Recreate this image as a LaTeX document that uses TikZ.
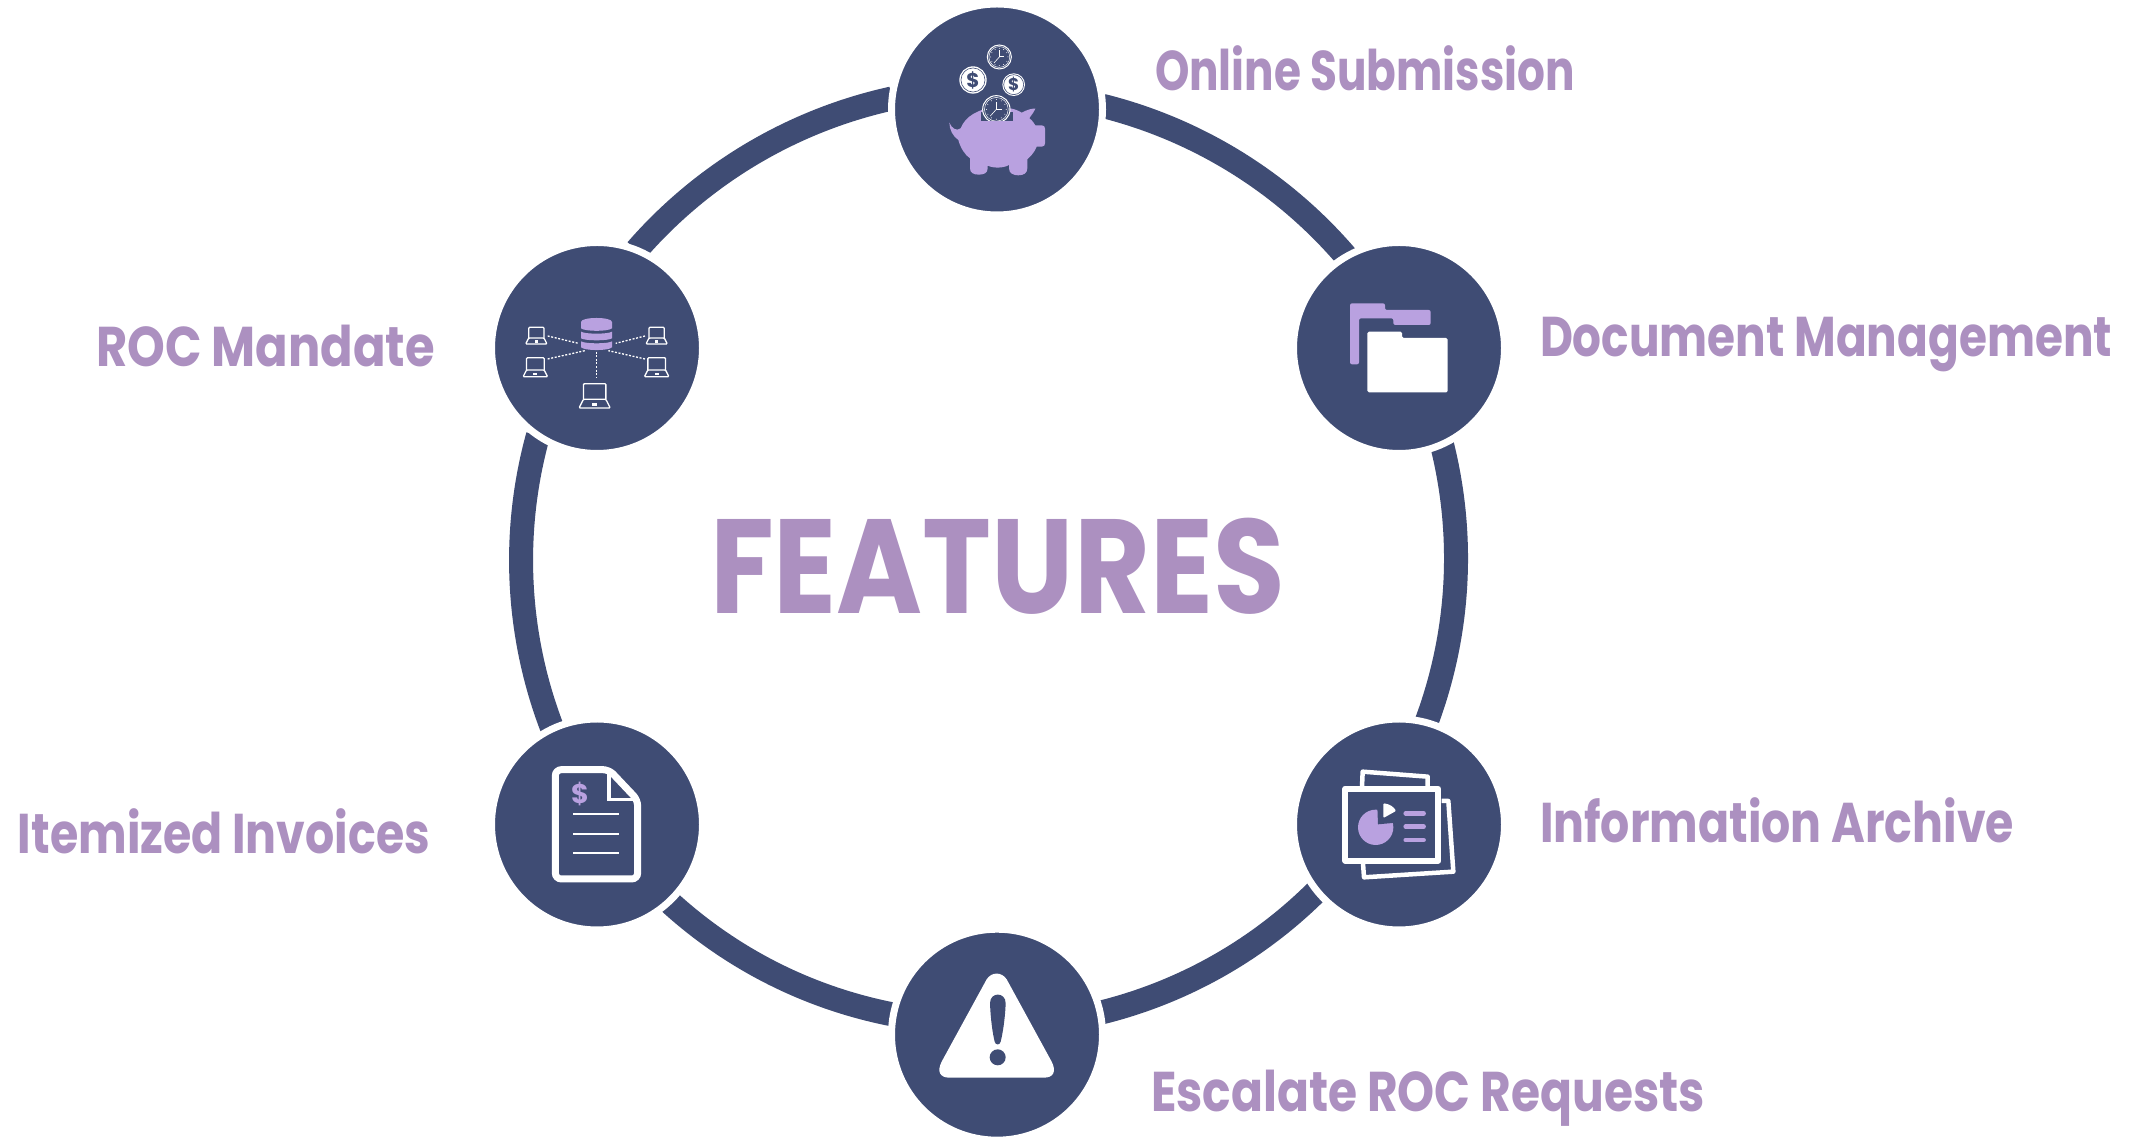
\documentclass[tikz,border=0pt]{standalone}
\usepackage{fontspec}
\usepackage{graphicx}
\setmainfont{Poppins}
\usetikzlibrary{backgrounds}
\definecolor{navy}{HTML}{3F4C74}
\definecolor{txt}{HTML}{AC90C0}
\definecolor{pur}{HTML}{B9A1E0}
\newcommand\fitw[2]{\setbox0\hbox{#2}\pgfmathparse{#1/\the\wd0}\scalebox{\pgfmathresult}[1]{\box0}}
\newcommand\laptop[3]{%
 \begin{scope}[shift={(#1,#2)}]
 \draw[wl,line width=1.3pt,rounded corners=1pt] (-23*#3,32*#3) -- (-23*#3,0) -- (23*#3,0) -- (23*#3,32*#3);
 \draw[wl,line width=1.3pt,rounded corners=1pt] (-23*#3,32*#3) -- (-32*#3,50*#3) -- (32*#3,50*#3) -- (23*#3,32*#3) -- cycle;
 \fill[white] (-5*#3,39*#3) rectangle (5*#3,46*#3);
 \end{scope}}
\newcommand\clockic[3]{%
 \begin{scope}[shift={(#1,#2)}]
 \fill[navy] (0,0) circle[radius=#3];
 \draw[white,line width=1pt] (0,0) circle[radius=#3];
 \draw[white,line width=.5pt] (0,0) circle[radius=#3*.87];
 \foreach \a in {0,30,...,330} \fill[white] (\a:#3*.72) circle[radius=1.5];
 \draw[white,line width=1pt] (0,-#3*.55) -- (0,0) -- (#3*.42,0);
 \draw[white,line width=.6pt] (0,0) -- (-#3*.45,#3*.5);
 \end{scope}}
\newcommand\coinic[4]{%
 \begin{scope}[shift={(#1,#2)}]
 \fill[white] (0,0) circle[radius=#3];
 \draw[navy,line width=.6pt] (0,0) circle[radius=#3*.88];
 \node[navy,font=\fontsize{#4}{#4}\selectfont\bfseries,inner sep=0pt] (n#1) at (0,0) {\$};
 \end{scope}}
\tikzset{
 feat/.style={circle,minimum size=211pt,inner sep=0pt,outer sep=0pt,fill=navy,draw=white,line width=7pt},
 ringarc/.style={draw=navy,line width=24pt,line cap=butt,looseness=.873},
 lbl/.style={anchor=base west,inner sep=0pt,outer sep=0pt,text=txt,font=\fontsize{56}{60}\selectfont\bfseries},
 wl/.style={draw=white},
 zoomed/.style={x=.33333pt,y=-.33333pt},
}
\begin{document}
\begin{tikzpicture}[x=1pt,y=1pt]
\useasboundingbox (0,0) rectangle (2144,1137);
\node[feat] (top) at (997,1027.5) {};
\node[feat] (ur) at (1399,789) {};
\node[feat] (lr) at (1399,312.5) {};
\node[feat] (bot) at (997,102.3) {};
\node[feat] (ll) at (597,312.5) {};
\node[feat] (ul) at (597,789) {};
\begin{pgfonlayer}{background}
\fill[white] (0,0) rectangle (2144,1137);
\draw[ringarc] (top.2.9) to[bend left=17.7] (ur.120.1);
\draw[ringarc] (ur.-66.9) to[bend left=17.3] (lr.75.1);
\draw[ringarc] (lr.219.6) to[bend left=15.5] (bot.12.8);
\draw[ringarc] (bot.169.4) to[bend left=15.7] (ll.-47.2);
\draw[ringarc] (ll.115.1) to[bend left=18.3] (ul.236.1);
\draw[ringarc] (ul.68.2) to[bend left=18.3] (top.174.9);
\end{pgfonlayer}
% labels
\node[lbl] (t1) at (1155,1046.5) {\fitw{420}{Online Submission}};
\node[lbl] (t2) at (1540,780.5) {\fitw{572}{Document Management}};
\node[lbl] (t3) at (1540,294.5) {\fitw{474}{Information Archive}};
\node[lbl] (t4) at (1151,25.5) {\fitw{554}{Escalate ROC Requests}};
\node[lbl] (t5) at (96,770.5) {\fitw{339}{ROC Mandate}};
\node[lbl] (t6) at (18,283.5) {\fitw{412}{Itemized Invoices}};
\node[lbl,font=\fontsize{134}{140}\selectfont\bfseries] (title) at (710,523) {\fitw{575}{FEATURES}};
% piggy
\begin{scope}[shift={(890pt,1137pt)},zoomed]
\fill[pur] (178,368) .. controls (185,385) and (200,395) .. (212,385)
 .. controls (225,350) and (265,325) .. (320,322)
 .. controls (350,322) and (375,325) .. (395,338)
 .. controls (410,330) and (425,325) .. (436,326)
 .. controls (430,340) and (420,350) .. (418,355)
 .. controls (428,362) and (432,370) .. (436,376)
 -- (455,376) .. controls (462,376) and (465,380) .. (465,386)
 -- (465,430) .. controls (465,436) and (462,440) .. (455,440)
 -- (440,440) .. controls (432,460) and (420,470) .. (412,478)
 -- (412,505) .. controls (412,520) and (400,526) .. (385,526)
 .. controls (370,526) and (357,520) .. (357,505)
 -- (357,495) .. controls (340,505) and (310,505) .. (293,497)
 -- (293,505) .. controls (293,520) and (280,524) .. (266,524)
 .. controls (250,524) and (240,518) .. (240,505)
 -- (240,475) .. controls (225,465) and (212,445) .. (205,420)
 .. controls (190,410) and (178,390) .. (178,368) -- cycle;
\fill[navy] (272,335) rectangle (368,362);
\begin{scope}
\clip (250,270) rectangle (390,362);
\clockic{319}{328}{41}
\end{scope}
\clockic{328}{171}{36}
\coinic{249}{240}{41}{20}
\coinic{371}{254}{34}{17}
\end{scope}
% network
\begin{scope}[shift={(490pt,897pt)},zoomed]
\fill[pur] (273,246) .. controls (273,230) and (366,230) .. (366,246) -- (366,265) .. controls (355,275) and (285,275) .. (273,265) -- cycle;
\fill[pur] (273,275) .. controls (285,283) and (355,283) .. (366,275) -- (366,295) .. controls (355,303) and (285,303) .. (273,295) -- cycle;
\fill[pur] (273,304) .. controls (285,312) and (355,312) .. (366,304) -- (366,322) .. controls (355,333) and (285,333) .. (273,322) -- cycle;
\draw[white,line width=1.3pt,dash pattern=on 2pt off 1.6pt] (173,288) -- (265,310);
\draw[white,line width=1.3pt,dash pattern=on 2pt off 1.6pt] (173,357) -- (285,332);
\draw[white,line width=1.3pt,dash pattern=on 2pt off 1.6pt] (319,335) -- (319,412);
\draw[white,line width=1.3pt,dash pattern=on 2pt off 1.6pt] (465,288) -- (377,310);
\draw[white,line width=1.3pt,dash pattern=on 2pt off 1.6pt] (465,357) -- (355,332);
\laptop{139}{262}{1}
\laptop{136}{353}{1.15}
\laptop{314}{431}{1.46}
\laptop{500}{262}{1}
\laptop{500}{353}{1.15}
\end{scope}
% folder
\begin{scope}[shift={(1290pt,897pt)},zoomed]
\fill[pur,rounded corners=2pt] (180,373) -- (180,190) -- (285,190) -- (285,210) -- (422,210) -- (422,255) -- (310,255) -- (310,235) -- (207,235) -- (207,373) -- cycle;
\fill[white,rounded corners=1.5pt] (232,457) -- (232,275) -- (336,275) -- (336,294) -- (473,294) -- (473,457) -- cycle;
\end{scope}
% info archive
\begin{scope}[shift={(1290pt,417pt)},zoomed]
\draw[white,line width=4.5pt,line join=round] (216,200) -- (218,155) -- (413,170) -- (413,200);
\draw[white,line width=4.5pt,line join=round] (455,243) -- (475,243) -- (490,455) -- (222,472) -- (219,430);
\draw[white,line width=6pt,line join=round] (166,206) rectangle (445,422);
\fill[pur] (257,322) circle[radius=53];
\fill[navy] (264,313) -- (262,262) -- (318,262) -- (318,308) -- cycle;
\fill[white,rounded corners=1pt] (280,250) .. controls (300,252) and (312,262) .. (318,273) -- (280,294) -- cycle;
\draw[pur,line width=4.5pt,line cap=round] (347,280) -- (401,280);
\draw[pur,line width=4.5pt,line cap=round] (347,320) -- (401,320);
\draw[pur,line width=4.5pt,line cap=round] (347,360) -- (401,360);
\end{scope}
% warning
\begin{scope}[shift={(890pt,217pt)},zoomed]
\fill[white] (290,178) .. controls (305,155) and (335,155) .. (350,178) -- (485,425)
 .. controls (500,455) and (490,473) .. (462,473) -- (178,473)
 .. controls (150,473) and (140,455) .. (155,425) -- cycle;
\fill[navy] (300,250) .. controls (300,215) and (347,215) .. (347,250) .. controls (345,300) and (338,340) .. (332,365) .. controls (330,376) and (316,376) .. (314,365) .. controls (308,340) and (302,300) .. (300,250) -- cycle;
\fill[navy] (323,412) circle[radius=24];
\end{scope}
% invoice
\begin{scope}[shift={(490pt,417pt)},zoomed]
\draw[white,line width=7pt,rounded corners=6pt] (196,149) -- (357,149) -- (443,240) -- (443,477) -- (196,477) -- cycle;
\draw[white,line width=3.6pt] (357,150) -- (357,238) -- (443,238);
\node[text=pur,font=\fontsize{27}{27}\selectfont\bfseries,inner sep=0pt] (dollar) at (270,222) {\$};
\draw[white,line width=1.8pt] (250,283) -- (388,283);
\draw[white,line width=1.8pt] (250,341) -- (388,341);
\draw[white,line width=1.8pt] (250,399) -- (388,399);
\end{scope}
\end{tikzpicture}
\end{document}
